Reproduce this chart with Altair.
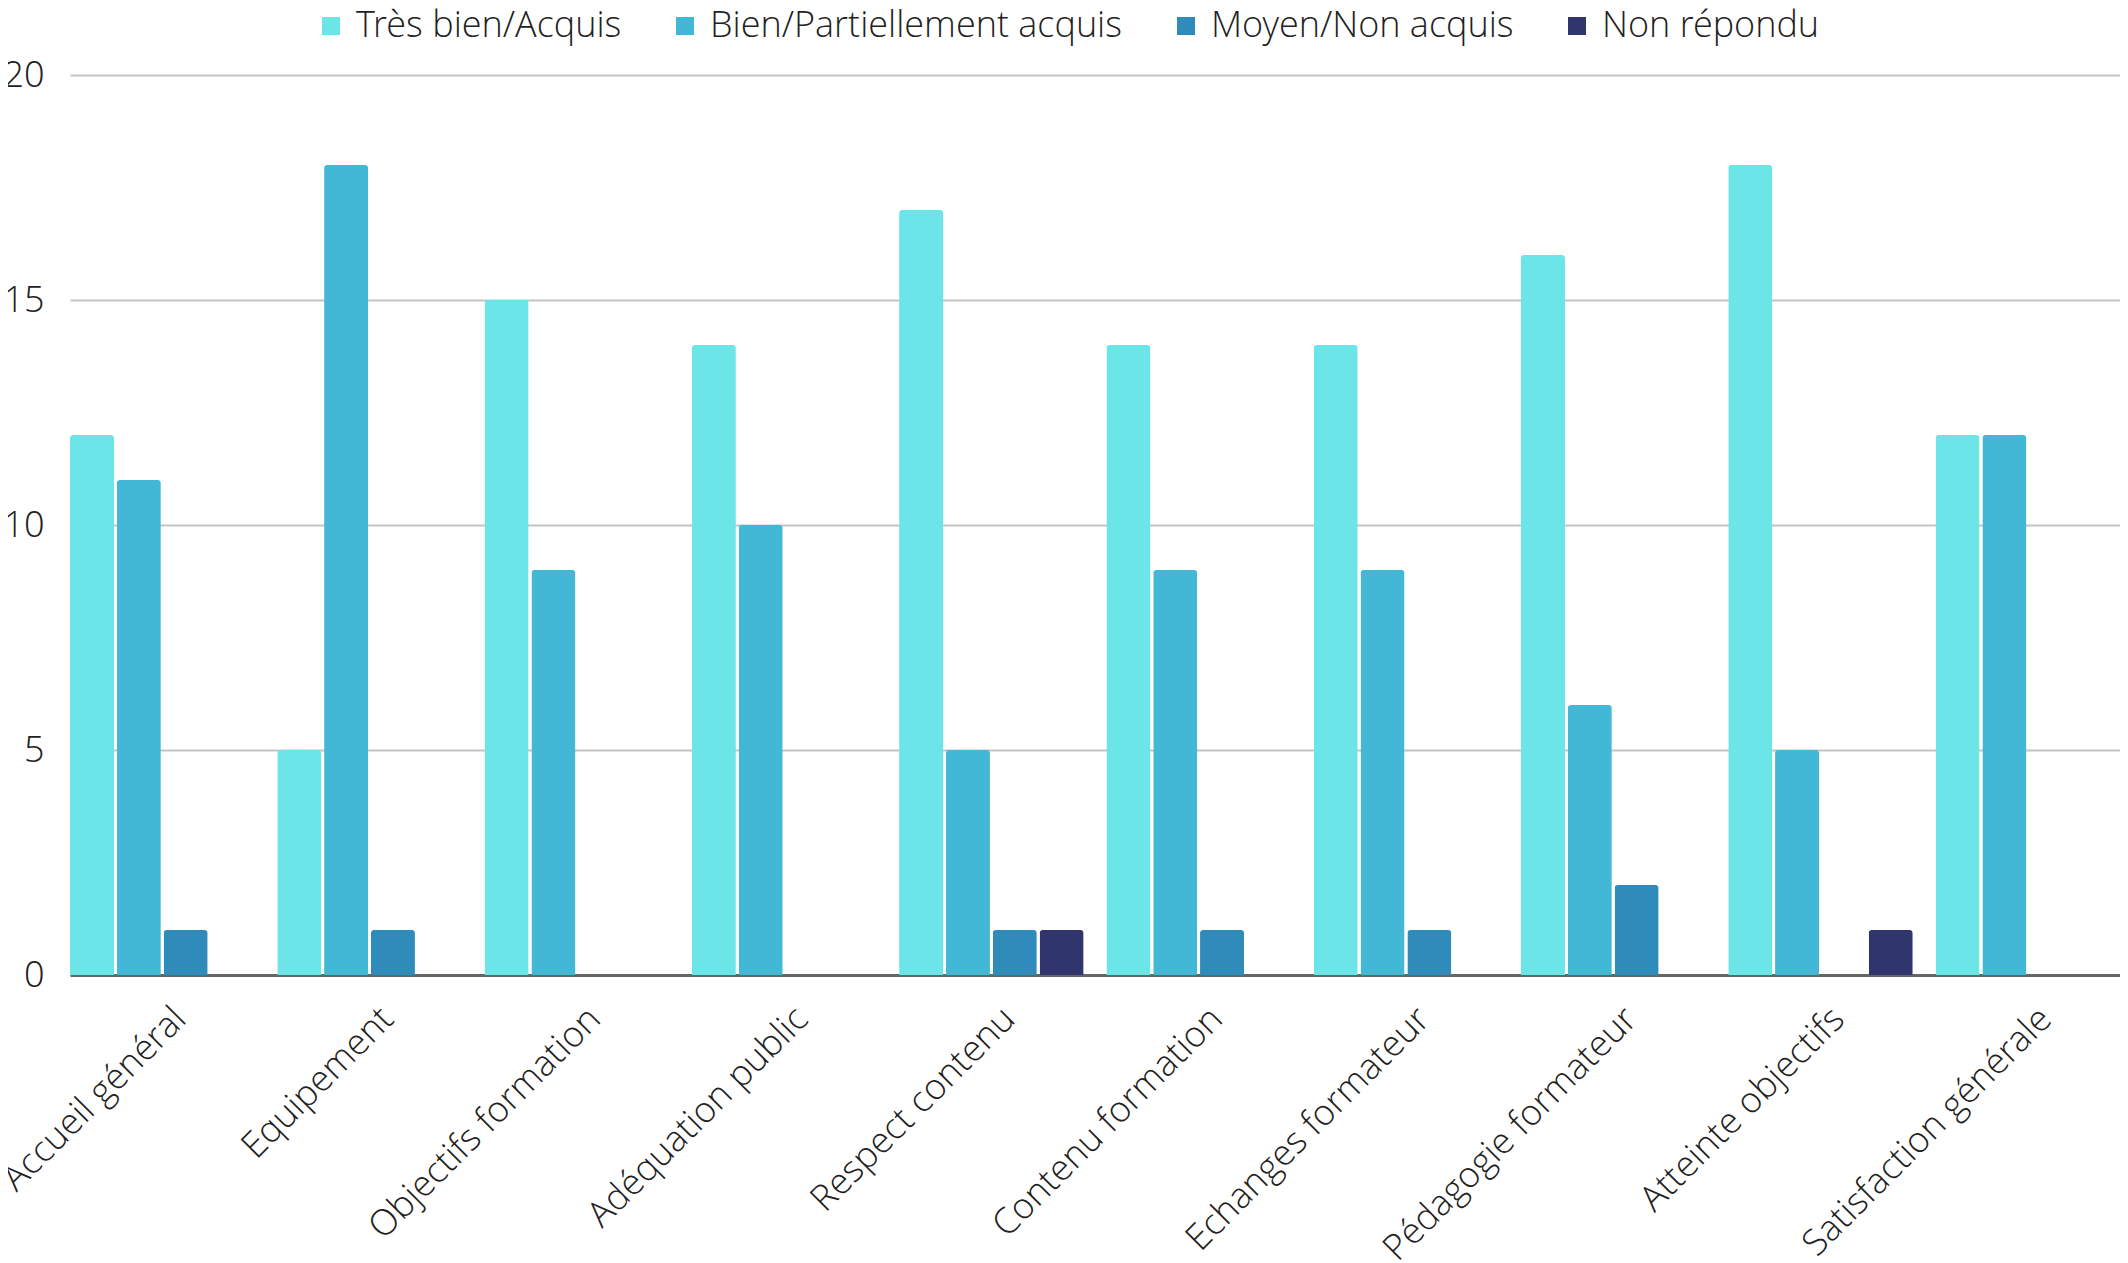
import altair as alt
import pandas as pd

categories = ["Accueil général", "Equipement", "Objectifs formation", "Adéquation public",
              "Respect contenu", "Contenu formation", "Echanges formateur",
              "Pédagogie formateur", "Atteinte objectifs", "Satisfaction générale"]
series = ["Très bien/Acquis", "Bien/Partiellement acquis", "Moyen/Non acquis", "Non répondu"]
tres_bien = [12, 5, 15, 14, 17, 14, 14, 16, 18, 12]
bien = [11, 18, 9, 10, 5, 9, 9, 6, 5, 12]
moyen = [1, 1, 0, 0, 1, 1, 1, 2, 0, 0]
non_repondu = [0, 0, 0, 0, 1, 0, 0, 0, 1, 0]
colors = ["#6be5e8", "#42b8d6", "#2e8bba", "#31356e"]

rows = []
for s, vals in zip(series, [tres_bien, bien, moyen, non_repondu]):
    for c, v in zip(categories, vals):
        if v > 0:
            rows.append({"cat": c, "serie": s, "val": v})
df = pd.DataFrame(rows)

FONT = "'Open Sans Light', 'Open Sans', sans-serif"
FS = 36

chart = alt.Chart(df).mark_bar(cornerRadiusTopLeft=3, cornerRadiusTopRight=3).encode(
    x=alt.X("cat:N", sort=categories, title=None,
            scale=alt.Scale(paddingInner=0.11, paddingOuter=0),
            axis=alt.Axis(labelAngle=315, labelAlign="right", labelBaseline="middle",
                          labelPadding=38, labelOffset=18, ticks=False, domain=True,
                          domainColor="#666666",
                          domainWidth=3, labelFontSize=FS, labelFont=FONT, labelFontWeight=300,
                          labelColor="#222222", grid=False, labelLimit=0)),
    xOffset=alt.XOffset("serie:N", sort=series,
                        scale=alt.Scale(domain=series, paddingInner=0.06, paddingOuter=0)),
    y=alt.Y("val:Q", title=None,
            scale=alt.Scale(domain=[0, 20], nice=False),
            axis=alt.Axis(values=[0, 5, 10, 15, 20], domain=False, ticks=False,
                          labelPadding=26, labelFontSize=FS, labelFont=FONT,
                          labelFontWeight=300, labelColor="#222222",
                          gridColor="#c4c4c4", gridWidth=2)),
    color=alt.Color("serie:N", sort=series,
                    scale=alt.Scale(domain=series, range=colors),
                    legend=alt.Legend(title=None, orient="none", legendX=243, legendY=-67,
                                      direction="horizontal", symbolType="square",
                                      symbolSize=324, symbolStrokeWidth=0,
                                      labelFontSize=FS, labelFont=FONT, labelFontWeight=300,
                                      labelColor="#222222", labelOffset=7,
                                      columnPadding=45, labelLimit=0)),
).properties(
    width=2050, height=900,
    autosize=alt.AutoSizeParams(type="none"),
    padding={"left": 62, "top": 67, "right": 0, "bottom": 286}
).configure_view(stroke=None)

chart.save("out.html", embed_options={"renderer": "svg", "actions": False})
